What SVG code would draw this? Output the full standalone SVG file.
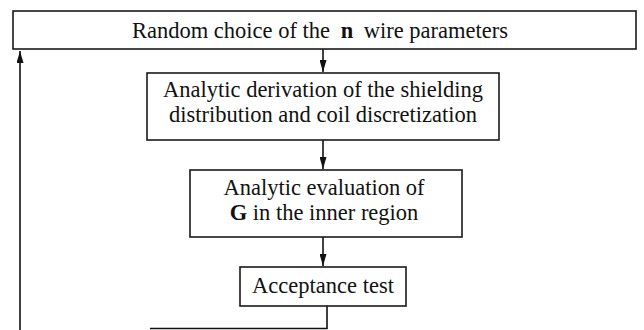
<svg xmlns="http://www.w3.org/2000/svg" width="644" height="330" viewBox="0 0 644 330">
  <style>
    .box { fill: #ffffff; stroke: #1a1a1a; stroke-width: 1.6; }
    .lbl { font-family: "Liberation Serif", "Times New Roman", serif; font-size: 22.5px; fill: #111111; text-anchor: middle; }
    .b { font-weight: bold; }
    .wire { fill: none; stroke: #111111; stroke-width: 1.6; }
  </style>
  <defs>
    <marker id="head" viewBox="0 0 12 7" refX="12" refY="3.5" markerWidth="12" markerHeight="7" markerUnits="userSpaceOnUse" orient="auto">
      <path d="M0,0 L12,3.5 L0,7 Z" fill="#111111"/>
    </marker>
  </defs>
  <rect width="644" height="330" fill="#ffffff"/>

  <g id="connectors">
    <path class="wire" d="M323,49 V72" marker-end="url(#head)"/>
    <path class="wire" d="M323,140 V169" marker-end="url(#head)"/>
    <path class="wire" d="M323,237 V266" marker-end="url(#head)"/>
    <path class="wire" d="M327,306 V328.5 H150"/>
    <path class="wire" d="M20,330 V51" marker-end="url(#head)"/>
  </g>

  <g id="random-choice">
    <rect class="box" x="13" y="11" width="623" height="38"/>
    <text class="lbl" x="320" y="38">Random choice of the <tspan class="b" dx="5">n</tspan><tspan dx="5"> wire parameters</tspan></text>
  </g>

  <g id="shielding-derivation">
    <rect class="box" x="147" y="73" width="352" height="67"/>
    <text class="lbl" x="323" y="97">Analytic derivation of the shielding</text>
    <text class="lbl" x="323" y="122">distribution and coil discretization</text>
  </g>

  <g id="g-evaluation">
    <rect class="box" x="190" y="170" width="272" height="67"/>
    <text class="lbl" x="324" y="195">Analytic evaluation of</text>
    <text class="lbl" x="324" y="220"><tspan class="b">G</tspan> in the inner region</text>
  </g>

  <g id="acceptance-test">
    <rect class="box" x="240" y="267" width="166" height="39"/>
    <text class="lbl" x="323" y="293">Acceptance test</text>
  </g>
</svg>
